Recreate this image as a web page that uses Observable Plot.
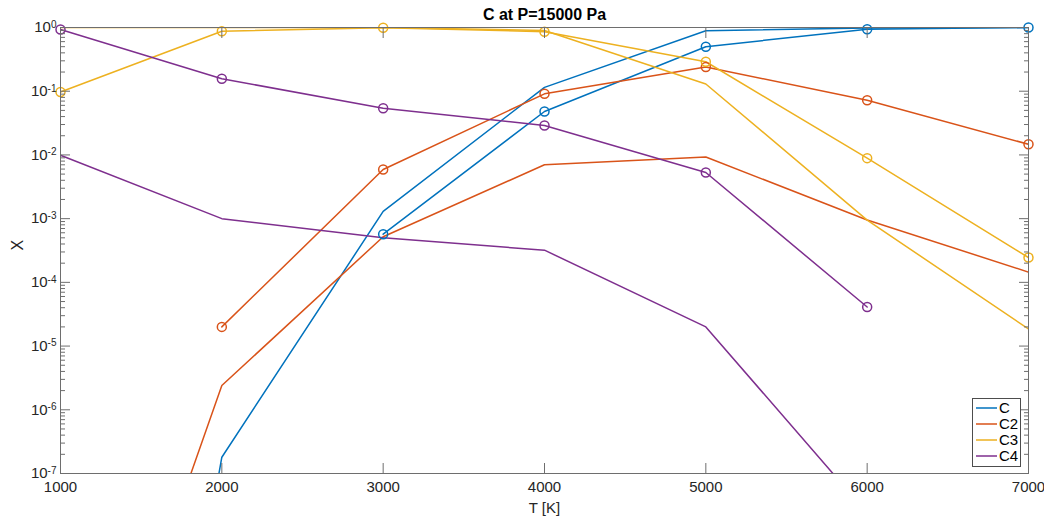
<!DOCTYPE html>
<html><head><meta charset="utf-8">
<script src="https://cdn.jsdelivr.net/npm/d3@7"></script>
<script src="https://cdn.jsdelivr.net/npm/@observablehq/plot@0.6"></script>
<style>
html,body{margin:0;padding:0;background:#fff;}
#chart{position:relative;width:1044px;height:517px;font-family:"Liberation Sans",Arial,Helvetica,sans-serif;}
</style></head><body><div id="chart"></div>
<script>
// ---- data ----
const T = [1000, 2000, 3000, 4000, 5000, 6000, 7000];
const species = ["C", "C2", "C3", "C4"];
const colors = ["#0072BD", "#D95319", "#EDB120", "#7E2F8E"];
// series drawn with circle markers
const markedC  = [null, null, 5.7e-4, 0.048, 0.50, 0.94, 1.0];
const markedC2 = [null, 2.0e-5, 5.9e-3, 0.091, 0.24, 0.072, 0.0147];
const markedC3 = [0.097, 0.875, 0.99, 0.86, 0.29, 8.9e-3, 2.45e-4];
const markedC4 = [0.93, 0.157, 0.054, 0.029, 5.3e-3, 4.1e-5, null];
// series drawn as plain lines
const plainC  = [1e-21, 1.8e-7, 1.3e-3, 0.115, 0.89, 0.98, 1.0];
const plainC2 = [1.5e-13, 2.4e-6, 5.2e-4, 7.0e-3, 9.3e-3, 9.5e-4, 1.45e-4];
const plainC3 = [1.0, 1.0, 0.998, 0.9, 0.13, 9.5e-4, 1.85e-5];
const plainC4 = [9.9e-3, 1.0e-3, 5.0e-4, 3.2e-4, 2.0e-5, 2.4e-8, 1e-11];
const xTicks = [1000, 2000, 3000, 4000, 5000, 6000, 7000];
const yTicks = [1e-7, 1e-6, 1e-5, 1e-4, 1e-3, 1e-2, 1e-1, 1];
const title = "C at P=15000 Pa";
const xLabel = "T [K]";
const yLabel = "X";

const marked = [markedC, markedC2, markedC3, markedC4];
const plain = [plainC, plainC2, plainC3, plainC4];
const rows = [];
species.forEach((s, i) => {
  T.forEach((t, j) => {
    rows.push({T: t, X: marked[i][j], s, kind: "m", z: s + "m"});
    rows.push({T: t, X: plain[i][j], s, kind: "p", z: s + "p"});
  });
});
const minorTicks = [];
for (let e = -7; e < 0; e++) for (let m = 2; m <= 9; m++) minorTicks.push(m * Math.pow(10, e));

const axisColor = "#6e6e6e";
const textColor = "#262626";

const plot = Plot.plot({
  width: 1044, height: 517,
  marginTop: 27, marginBottom: 44, marginLeft: 60, marginRight: 16,
  style: {fontFamily: '"Liberation Sans", Arial, Helvetica, sans-serif', fontSize: "15px", color: textColor, background: "white", overflow: "visible"},
  x: {domain: [1000, 7000], label: null},
  y: {type: "log", domain: [1e-7, 1], label: null},
  color: {domain: species, range: colors},
  marks: [
    Plot.line(rows, {x: "T", y: "X", z: "z", stroke: "s", strokeWidth: 1.5, clip: true}),
    Plot.dot(rows.filter(d => d.kind === "m" && d.X != null), {x: "T", y: "X", stroke: "s", r: 4.5, strokeWidth: 1.5, fill: "none"}),
    Plot.frame({stroke: axisColor, strokeWidth: 1}),
    // ticks inward
    Plot.axisX({ticks: xTicks, anchor: "bottom", tickSize: -10, tickFormat: () => "", label: null, stroke: axisColor}),
    Plot.axisX({ticks: xTicks, anchor: "top", tickSize: -10, tickFormat: () => "", label: null, stroke: axisColor}),
    Plot.axisY({ticks: yTicks, anchor: "left", tickSize: -10, tickFormat: () => "", label: null, stroke: axisColor}),
    Plot.axisY({ticks: yTicks, anchor: "right", tickSize: -10, tickFormat: () => "", label: null, stroke: axisColor}),
    Plot.axisY({ticks: minorTicks, anchor: "left", tickSize: -5, tickFormat: () => "", label: null, stroke: axisColor}),
    Plot.axisY({ticks: minorTicks, anchor: "right", tickSize: -5, tickFormat: () => "", label: null, stroke: axisColor}),
    // labels
    Plot.axisX({ticks: xTicks, anchor: "bottom", tickSize: 0, tickPadding: 8, fontSize: 15, label: null, fill: textColor,
      tickFormat: d => String(d)}),
    Plot.axisY({ticks: yTicks, anchor: "left", tickSize: 0, tickPadding: 4, fontSize: 15, label: null, fill: textColor,
      tickFormat: d => "10|" + Math.round(Math.log10(d))}),
    Plot.text([xLabel], {text: d => d, frameAnchor: "bottom", lineAnchor: "middle", dy: 35, fontSize: 15, fill: textColor}),
    Plot.text([yLabel], {text: d => d, frameAnchor: "left", lineAnchor: "middle", dx: -43, rotate: -90, fontSize: 16, fill: textColor}),
    Plot.text([title], {text: d => d, frameAnchor: "top", lineAnchor: "middle", dy: -13, fontSize: 16, fontWeight: "bold", fill: "#000"})
  ]
});

// superscript exponents on y tick labels
d3.select(plot).selectAll('g[aria-label="y-axis tick label"] text').each(function () {
  const t = this.textContent;
  if (!t.includes("|")) return;
  const [base, exp] = t.split("|");
  const sel = d3.select(this);
  sel.text(null);
  sel.append("tspan").text(base);
  sel.append("tspan").attr("dy", "-0.45em").attr("font-size", "10px").text(exp);
});

// legend
const svg = d3.select(plot);
const lx = 972, ly = 398, lw = 48, lh = 68;
const lg = svg.append("g").attr("text-anchor", "start");
lg.append("rect").attr("x", lx + 0.5).attr("y", ly + 0.5).attr("width", lw).attr("height", lh)
  .attr("fill", "white").attr("stroke", "#4d4d4d").attr("stroke-width", 1);
species.forEach((s, i) => {
  const yy = ly + 10 + i * 16;
  lg.append("line").attr("x1", lx + 4).attr("x2", lx + 25).attr("y1", yy).attr("y2", yy)
    .attr("stroke", colors[i]).attr("stroke-width", 1.5);
  lg.append("text").attr("x", lx + 27).attr("y", yy).attr("dy", "0.35em").attr("text-anchor", "start")
    .attr("font-size", 15).attr("fill", "#000").text(s);
});

document.getElementById("chart").appendChild(plot);
</script></body></html>
